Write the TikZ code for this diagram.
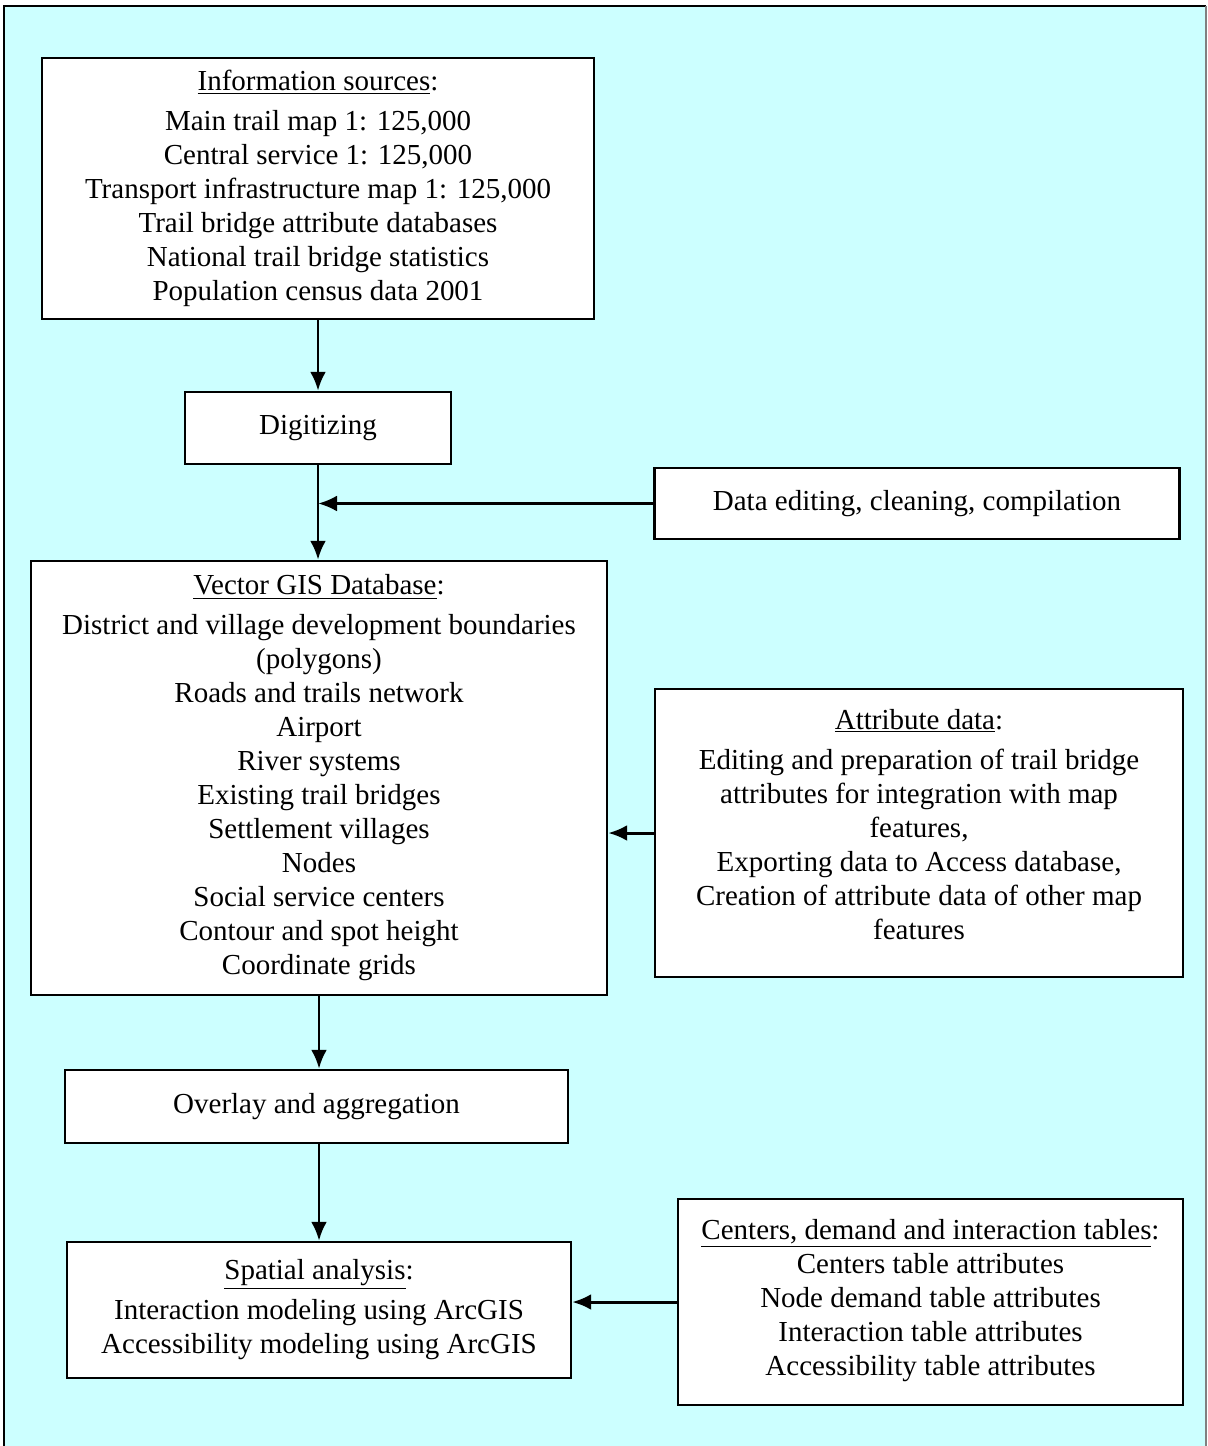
\documentclass[tikz,border=0pt]{standalone}
\usepackage{fontspec}
\setmainfont{Liberation Serif}
\usetikzlibrary{arrows.meta}
\definecolor{bgcyan}{RGB}{204,255,255}
\tikzset{
  box/.style={draw, line width=1.4pt, fill=white, align=center, inner sep=0pt,
    font=\fontsize{16.5}{19.35}\selectfont},
  flow/.style={-{Latex[length=0.38cm,width=0.32cm]}, line width=1.7pt}
}
\begin{document}
\begin{tikzpicture}[x=0.02cm,y=-0.02cm]

\useasboundingbox (0,0) rectangle (1207,1446);
\fill[bgcyan] (4,6) rectangle (1207,1446);
\draw[line width=1.7pt] (4,1446) -- (4,6) -- (1206,6);
\draw[gray,line width=0.6pt] (1206,6) -- (1206,1446);

% left column
\node[box, minimum width=552*0.02cm, minimum height=261*0.02cm] (info) at (318,188.5)
  {\underline{Information sources}:\\[0.12cm]
   Main trail map 1: 125,000\\
   Central service 1: 125,000\\
   Transport infrastructure map 1: 125,000\\
   Trail bridge attribute databases\\
   National trail bridge statistics\\
   Population census data 2001};

\node[box, minimum width=266*0.02cm, minimum height=72*0.02cm] (dig) at (318,428)
  {Digitizing\rule[-0.1cm]{0pt}{0pt}};

\node[box, minimum width=576*0.02cm, minimum height=434*0.02cm] (vec) at (319,778)
  {\underline{Vector GIS Database}:\\[0.12cm]
   District and village development boundaries\\
   (polygons)\\
   Roads and trails network\\
   Airport\\
   River systems\\
   Existing trail bridges\\
   Settlement villages\\
   Nodes\\
   Social service centers\\
   Contour and spot height\\
   Coordinate grids};

\node[box, minimum width=503*0.02cm, minimum height=73*0.02cm] (over) at (316.5,1106.5)
  {Overlay and aggregation\rule[-0.1cm]{0pt}{0pt}};

\node[box, minimum width=504*0.02cm, minimum height=136*0.02cm] (spat) at (319,1310)
  {\underline{Spatial analysis}:\\[0.12cm]
   Interaction modeling using ArcGIS\\
   Accessibility modeling using ArcGIS};

% right column
\node[box, minimum width=525*0.02cm, minimum height=71*0.02cm] (data) at (917,503.5)
  {Data editing, cleaning, compilation\rule[-0.12cm]{0pt}{0pt}};

\node[box, minimum width=528*0.02cm, minimum height=288*0.02cm] (attr) at (919,833)
  {\underline{Attribute data}:\\[0.12cm]
   Editing and preparation of trail bridge\\
   attributes for integration with map\\
   features,\\
   Exporting data to Access database,\\
   Creation of attribute data of other map\\
   features\rule[-0.36cm]{0pt}{0pt}};

\node[box, minimum width=505*0.02cm, minimum height=206*0.02cm] (cent) at (930.5,1302)
  {\underline{Centers, demand and interaction tables}:\\
   Centers table attributes\\
   Node demand table attributes\\
   Interaction table attributes\\
   Accessibility table attributes\rule[-0.2cm]{0pt}{0pt}};

% connectors
\draw[flow] (info.south) -- (dig.north);
\draw[flow] (dig.south) -- (dig.south |- vec.north);
\draw[flow] (data.west) -- (data.west -| dig.south);
\draw[flow] (attr.west) -- (vec.east |- attr.west);
\draw[flow] (vec.south) -- (vec.south |- over.north);
\draw[flow] (over.south -| spat.north) -- (spat.north);
\draw[flow] (cent.west) -- (spat.east |- cent.west);

\end{tikzpicture}
\end{document}
